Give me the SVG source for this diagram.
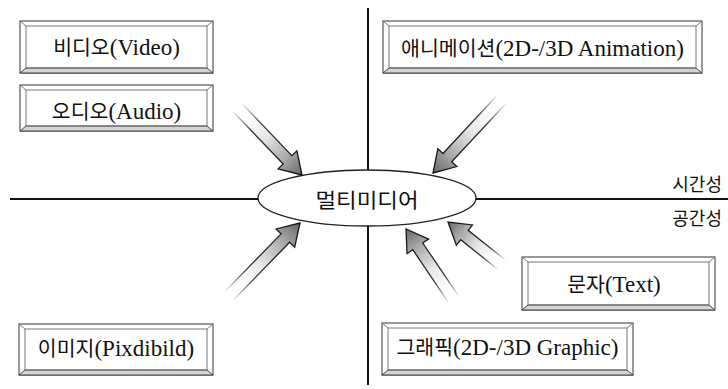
<svg xmlns="http://www.w3.org/2000/svg" width="728" height="389" viewBox="0 0 728 389">
<defs>
<linearGradient id="af" x1="0" y1="0" x2="1" y2="0">
<stop offset="0" stop-color="#fff" stop-opacity="0"/>
<stop offset="0.45" stop-color="#e6e6e6"/>
<stop offset="0.75" stop-color="#aaa"/>
<stop offset="1" stop-color="#666"/>
</linearGradient>
<linearGradient id="as" x1="0" y1="0" x2="1" y2="0">
<stop offset="0" stop-color="#222" stop-opacity="0"/>
<stop offset="0.3" stop-color="#222" stop-opacity="0.9"/>
<stop offset="1" stop-color="#111"/>
</linearGradient>
</defs>
<style>
.bo{fill:#fff;stroke:#555;stroke-width:1.2}
.bb{fill:#d4d4d4;stroke:#444;stroke-width:1}
.bl{fill:none;stroke:#777;stroke-width:1}
.ax{stroke:#111;stroke-width:2;fill:none}
.el{fill:#fff;stroke:#222;stroke-width:1.3}
.ko{font-family:"Noto Sans CJK KR","Noto Sans",sans-serif;font-size:20.5px;fill:#111}
.la{font-family:"Liberation Serif","Noto Sans CJK KR",serif;font-size:23px;fill:#111}
.lb{font-family:"Noto Sans CJK KR","Noto Sans",sans-serif;font-size:18px;fill:#111}
.af{fill:url(#af);stroke:none}
.as{fill:none;stroke:url(#as);stroke-width:1.3;stroke-linejoin:miter}
</style>
<rect width="728" height="389" fill="#fff"/>
<g id="axes">
<line class="ax" x1="10" y1="199" x2="728" y2="199"/>
<line class="ax" x1="368" y1="8" x2="368" y2="385"/>
<text class="lb" x="722" y="191" text-anchor="end">시간성</text>
<text class="lb" x="722" y="225" text-anchor="end">공간성</text>
</g>
<g id="center">
<ellipse class="el" cx="367" cy="198" rx="109" ry="28"/>
<text class="ko" x="367" y="208" font-size="23" text-anchor="middle" textLength="103" lengthAdjust="spacingAndGlyphs">멀티미디어</text>
</g>
<g id="video">
<rect class="bo" x="20" y="21" width="193" height="52"/>
<path class="bb" d="M20,73 H213 L207,68 H26 Z"/>
<path class="bl" d="M26,26 H207 V68 H26 Z M20,21 L26,26 M213,21 L207,26"/>
<text x="116.5" y="55" text-anchor="middle"><tspan class="ko">비디오</tspan><tspan class="la">(Video)</tspan></text>
</g>
<g id="audio">
<rect class="bo" x="20" y="85" width="193" height="46"/>
<path class="bb" d="M20,131 H213 L207,126 H26 Z"/>
<path class="bl" d="M26,90 H207 V126 H26 Z M20,85 L26,90 M213,85 L207,90"/>
<text x="116.5" y="119" text-anchor="middle"><tspan class="ko">오디오</tspan><tspan class="la">(Audio)</tspan></text>
</g>
<g id="animation">
<rect class="bo" x="383" y="21" width="319" height="52"/>
<path class="bb" d="M383,73 H702 L696,68 H389 Z"/>
<path class="bl" d="M389,26 H696 V68 H389 Z M383,21 L389,26 M702,21 L696,26"/>
<text x="542.5" y="56" text-anchor="middle"><tspan class="ko">애니메이션</tspan><tspan class="la">(2D-/3D Animation)</tspan></text>
</g>
<g id="image">
<rect class="bo" x="19" y="324" width="194" height="51"/>
<path class="bb" d="M19,375 H213 L207,370 H25 Z"/>
<path class="bl" d="M25,329 H207 V370 H25 Z M19,324 L25,329 M213,324 L207,329"/>
<text x="116" y="356" text-anchor="middle"><tspan class="ko">이미지</tspan><tspan class="la">(Pixdibild)</tspan></text>
</g>
<g id="text">
<rect class="bo" x="522" y="257" width="193" height="53"/>
<path class="bb" d="M522,310 H715 L709,305 H528 Z"/>
<path class="bl" d="M528,262 H709 V305 H528 Z M522,257 L528,262 M715,257 L709,262"/>
<text x="614" y="292" text-anchor="middle"><tspan class="ko">문자</tspan><tspan class="la">(Text)</tspan></text>
</g>
<g id="graphic">
<rect class="bo" x="382" y="323" width="251" height="52"/>
<path class="bb" d="M382,375 H633 L627,370 H388 Z"/>
<path class="bl" d="M388,328 H627 V370 H388 Z M382,323 L388,328 M633,323 L627,328"/>
<text x="507.5" y="355" text-anchor="middle"><tspan class="ko">그래픽</tspan><tspan class="la">(2D-/3D Graphic)</tspan></text>
</g>
<g id="connectors">
<g transform="translate(302,175) rotate(46.3)">
<path class="af" d="M-95,-6 L-21,-6 L-21,-13 L0,0 L-21,13 L-21,6 L-95,6 Z"/>
<path class="as" d="M-95,-6 L-21,-6 L-21,-13 L0,0 L-21,13 L-21,6 L-95,6"/>
</g>
<g transform="translate(433,173) rotate(133)">
<path class="af" d="M-102,-6 L-21,-6 L-21,-13 L0,0 L-21,13 L-21,6 L-102,6 Z"/>
<path class="as" d="M-102,-6 L-21,-6 L-21,-13 L0,0 L-21,13 L-21,6 L-102,6"/>
</g>
<g transform="translate(300,223) rotate(-45.8)">
<path class="af" d="M-103,-6 L-21,-6 L-21,-13 L0,0 L-21,13 L-21,6 L-103,6 Z"/>
<path class="as" d="M-103,-6 L-21,-6 L-21,-13 L0,0 L-21,13 L-21,6 L-103,6"/>
</g>
<g transform="translate(406,229) rotate(-124.1)">
<path class="af" d="M-86,-6 L-21,-6 L-21,-13 L0,0 L-21,13 L-21,6 L-86,6 Z"/>
<path class="as" d="M-86,-6 L-21,-6 L-21,-13 L0,0 L-21,13 L-21,6 L-86,6"/>
</g>
<g transform="translate(448,222) rotate(-141.5)">
<path class="af" d="M-69,-6 L-21,-6 L-21,-13 L0,0 L-21,13 L-21,6 L-69,6 Z"/>
<path class="as" d="M-69,-6 L-21,-6 L-21,-13 L0,0 L-21,13 L-21,6 L-69,6"/>
</g>
</g>
</svg>
